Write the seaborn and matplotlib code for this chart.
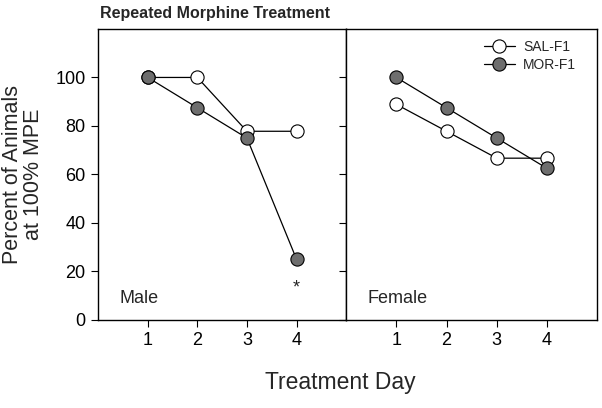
import numpy as np
import pandas as pd
import matplotlib
matplotlib.use('Agg')
import matplotlib.pyplot as plt
import seaborn as sns

sns.set_style('ticks')
plt.rcParams['font.family'] = ['Liberation Sans', 'DejaVu Sans']

# data
days = [1, 2, 3, 4]
male_sal = [100, 100, 77.8, 77.8]
male_mor = [100, 87.5, 75, 25]
female_sal = [88.9, 77.8, 66.7, 66.7]
female_mor = [100, 87.5, 75, 62.5]
groups = ['SAL-F1', 'MOR-F1']
face_colors = {'SAL-F1': 'white', 'MOR-F1': '#6e6e6e'}

fig = plt.figure(figsize=(6.02, 4.08), dpi=100)
ax1 = fig.add_axes([0.163, 0.216, 0.412, 0.713])
ax2 = fig.add_axes([0.575, 0.216, 0.417, 0.713])

panels = [(ax1, male_sal, male_mor, 'Male'), (ax2, female_sal, female_mor, 'Female')]
for ax, sal, mor, name in panels:
    # draw saline first so the morphine markers sit on top
    for grp, vals in zip(groups, [sal, mor]):
        sns.lineplot(x=days, y=vals, ax=ax, color='black', lw=0.9,
                     marker='o', markersize=9.5, markerfacecolor=face_colors[grp],
                     markeredgecolor='black', markeredgewidth=0.8, label=grp)
    ax.set_xlim(0, 5)
    ax.set_ylim(0, 120)
    ax.set_xticks(days)
    ax.set_yticks([0, 20, 40, 60, 80, 100])
    ax.tick_params(direction='out', length=5, width=0.8, labelsize=13,
                   colors='black', pad=4)
    for s in ax.spines.values():
        s.set_linewidth(1.0)
        s.set_color('black')
    ax.text(0.085, 0.075, name, transform=ax.transAxes, fontsize=13, va='center')
    ax.set_xlabel('')
    ax.set_ylabel('')

ax1.get_legend().remove()
ax2.set_yticklabels([])
ax2.legend(loc='upper right', bbox_to_anchor=(0.96, 1.0), frameon=False,
           fontsize=10, handlelength=2.2, borderaxespad=0.4,
           handletextpad=0.6, labelspacing=0.3)

# significance marker
ax1.text(4, 13, '*', ha='center', va='center', fontsize=13)

ax1.set_ylabel('Percent of Animals\nat 100% MPE', fontsize=15.5, labelpad=8,
               linespacing=1.0)
fig.text(0.565, 0.047, 'Treatment Day', ha='center', fontsize=16.5)
fig.text(0.166, 0.966, 'Repeated Morphine Treatment', ha='left', va='center',
         fontsize=11.5, fontweight='bold')

fig.savefig('out.png', dpi=100)
